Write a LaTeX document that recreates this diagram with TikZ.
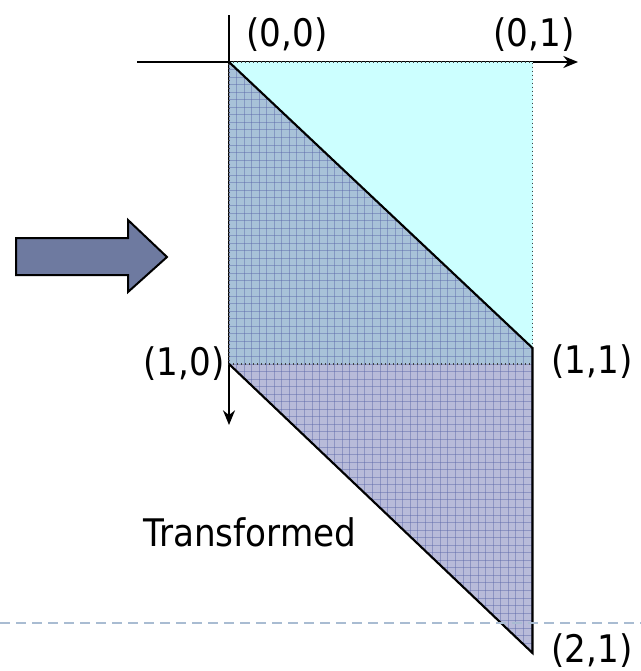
\documentclass[tikz,border=0pt]{standalone}
\usepackage{fontspec}
\setmainfont{DejaVu Sans Condensed}
\usetikzlibrary{arrows.meta}
\definecolor{sqcyan}{HTML}{CCFFFF}
\definecolor{ovblue}{HTML}{A8C2D8}
\definecolor{lolav}{HTML}{B8BBD9}
\definecolor{gridblue}{HTML}{5A66A8}
\definecolor{bigarrow}{HTML}{6E7AA0}
\definecolor{dashgray}{HTML}{A9BCD2}

\tikzset{
  axisline/.style={black, line width=1.3pt, -{Stealth[length=11pt, width=9pt]}},
  sqedge/.style={black!75, line width=1pt, dotted},
  shapeedge/.style={black, line width=1.6pt},
  gridline/.style={gridblue, line width=0.7pt, opacity=0.45},
  coordlabel/.style={inner sep=0pt, font=\fontsize{28.5}{34}\selectfont}
}

\begin{document}
\begin{tikzpicture}[x=0.75pt, y=-0.75pt]
\useasboundingbox (0,0) rectangle (641,671);

% --- corners ---
\coordinate (c00) at (229,62);
\coordinate (c01) at (532.5,62);
\coordinate (c10) at (229,364);
\coordinate (c11) at (532.5,364);
\coordinate (t11) at (532.5,348);
\coordinate (t21) at (532.5,653);

% --- axes (under the fill) ---
\coordinate (xstart) at (137,62);
\coordinate (xend) at (578,62);
\coordinate (ystart) at (229,15);
\coordinate (yend) at (229,425);
\draw[axisline] (xstart) -- (xend);
\draw[axisline] (ystart) -- (yend);

% --- unit square ---
\fill[sqcyan] (c00) -- (c01) -- (c11) -- (c10) -- cycle;

% --- transformed square ---
\fill[ovblue] (c00) -- (t11) -- (c11) -- (c10) -- cycle;
\fill[lolav] (c10) -- (c11) -- (t21) -- cycle;

% grid inside the parallelogram
\begin{scope}
  \clip (c00) -- (t11) -- (t21) -- (c10) -- cycle;
  \foreach \gx in {0,...,40}
    \draw[gridline] ({229+\gx*7.55},62) -- ({229+\gx*7.55},653);
  \foreach \gy in {0,...,79}
    \draw[gridline] (229,{62+\gy*7.55}) -- (532.5,{62+\gy*7.55});
\end{scope}

\draw[sqedge] (c00) -- (c01) -- (c11) -- (c10) -- cycle;
\draw[shapeedge] (c00) -- (t11) -- (t21) -- (c10);

% --- dashed line near the bottom ---
\coordinate (bl) at (0,623);
\coordinate (br) at (641,623);
\draw[dashgray, line width=1.6pt, dash pattern=on 7.5pt off 4.5pt] (bl) -- (br);

% --- labels ---
\node[coordlabel] (l00) at (287,35) {(0,0)};
\node[coordlabel] (l01) at (534,35) {(0,1)};
\node[coordlabel] (l10) at (184,364) {(1,0)};
\node[coordlabel] (l11) at (592,362) {(1,1)};
\node[coordlabel] (l21) at (592,651) {(2,1)};
\node[coordlabel] (trans) at (250,532) {Transformed};

% --- block arrow ---
\draw[fill=bigarrow, line width=1.5pt, line join=miter]
  (16,238) -- (128,238) -- (128,220) -- (167,257) -- (128,292)
  -- (128,275) -- (16,275) -- cycle;

\end{tikzpicture}
\end{document}
